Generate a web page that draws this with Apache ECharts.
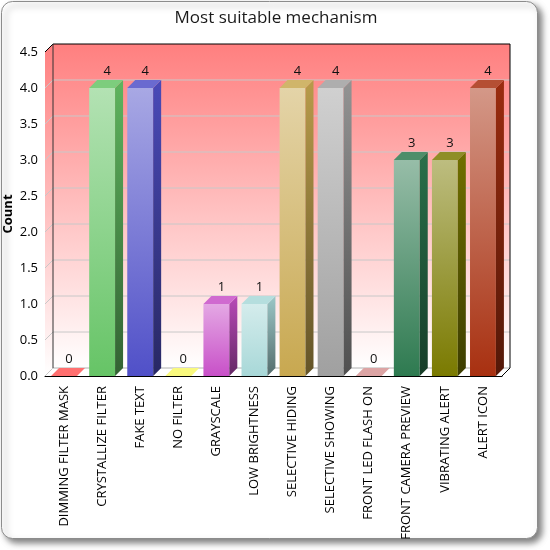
<!DOCTYPE html>
<html>
<head>
<meta charset="utf-8">
<script src="https://cdn.jsdelivr.net/npm/echarts@6/dist/echarts.min.js"></script>
<style>
  html, body { margin: 0; padding: 0; background: #fff; }
  #chart { width: 550px; height: 550px; }
</style>
</head>
<body>
<div id="chart"></div>
<script>
// data
const categories = ['DIMMING FILTER MASK', 'CRYSTALLIZE FILTER', 'FAKE TEXT', 'NO FILTER', 'GRAYSCALE',
  'LOW BRIGHTNESS', 'SELECTIVE HIDING', 'SELECTIVE SHOWING', 'FRONT LED FLASH ON',
  'FRONT CAMERA PREVIEW', 'VIBRATING ALERT', 'ALERT ICON'];
const counts = [0, 4, 4, 0, 1, 1, 4, 4, 0, 3, 3, 4];
const yTicks = [0, 0.5, 1, 1.5, 2, 2.5, 3, 3.5, 4, 4.5];

// one colour per bar
const barColors = ['#FF5F5F', '#66C466', '#5050C8', '#F8F870', '#C850C8', '#A8D8D8',
  '#C8A850', '#A0A0A0', '#D89A9A', '#2E7A50', '#7A7A00', '#A83010'];

const DEPTH = 8;

function mix(hex, target, t) {
  const a = parseInt(hex.slice(1), 16), b = parseInt(target.slice(1), 16);
  const ch = (n, s) => (n >> s) & 255;
  const m = s => Math.round(ch(a, s) + (ch(b, s) - ch(a, s)) * t);
  return 'rgb(' + m(16) + ',' + m(8) + ',' + m(0) + ')';
}
function vgrad(c1, c2) {
  return new echarts.graphic.LinearGradient(0, 0, 0, 1, [
    { offset: 0, color: c1 }, { offset: 1, color: c2 }
  ]);
}

// back wall, left wall, floor and grid lines
function renderWalls(params, api) {
  const cs = params.coordSys;
  const x0 = cs.x, x1 = cs.x + cs.width;
  const yTop = cs.y, yBot = cs.y + cs.height;
  const d = DEPTH;
  const wallFill = new echarts.graphic.LinearGradient(0, 0, 0, 1, [
    { offset: 0, color: '#FF7F7F' }, { offset: 1, color: '#FFFFFF' }
  ]);
  const kids = [
    { type: 'rect', shape: { x: x0 + d, y: yTop - d, width: x1 - x0, height: yBot - yTop },
      style: { fill: wallFill } },
    { type: 'polygon', shape: { points: [[x0, yTop], [x0 + d, yTop - d], [x0 + d, yBot - d], [x0, yBot]] },
      style: { fill: wallFill } },
    { type: 'polygon', shape: { points: [[x0, yBot], [x1, yBot], [x1 + d, yBot - d], [x0 + d, yBot - d]] },
      style: { fill: '#fff' } }
  ];
  yTicks.forEach(t => {
    const y = api.coord([0, t])[1];
    kids.push({ type: 'line', shape: { x1: x0, y1: y, x2: x0 + d, y2: y - d },
      style: { stroke: '#C8C8C8', lineWidth: 1 } });
    if (t > 0 && t < 4.5) {
      kids.push({ type: 'line', shape: { x1: x0 + d, y1: y - d, x2: x1 + d, y2: y - d },
        style: { stroke: '#C8C8C8', lineWidth: 1 } });
    }
  });
  kids.push({ type: 'line', shape: { x1: x0 + d, y1: yBot - d, x2: x1 + d, y2: yBot - d },
    style: { stroke: '#B0B0B0', lineWidth: 1 } });
  kids.push({ type: 'polyline',
    shape: { points: [[x0, yTop], [x0 + d, yTop - d], [x1 + d, yTop - d], [x1 + d, yBot - d], [x1, yBot]] },
    style: { stroke: '#000', lineWidth: 1, fill: null } });
  kids.push({ type: 'line', shape: { x1: x0 + d, y1: yTop - d, x2: x0 + d, y2: yBot - d },
    style: { stroke: '#333', lineWidth: 1 } });
  return { type: 'group', children: kids };
}

function renderBar(params, api) {
  const i = api.value(0), v = api.value(1);
  const base = api.coord([i, 0]);
  const top = api.coord([i, v]);
  const bw = api.size([1, 0])[0] * 0.68;
  const x0 = base[0] - bw / 2, x1 = base[0] + bw / 2;
  const yb = base[1], yt = top[1];
  const d = DEPTH;
  const c = barColors[i];
  const kids = [];
  if (v > 0) {
    kids.push({ type: 'rect', shape: { x: x0, y: yt, width: bw, height: yb - yt },
      style: { fill: vgrad(mix(c, '#FFFFFF', 0.5), c) } });
    kids.push({ type: 'polygon', shape: { points: [[x1, yt], [x1 + d, yt - d], [x1 + d, yb - d], [x1, yb]] },
      style: { fill: vgrad(mix(c, '#000000', 0.08), mix(c, '#000000', 0.5)) } });
  }
  kids.push({ type: 'polygon', shape: { points: [[x0, yt], [x1, yt], [x1 + d, yt - d], [x0 + d, yt - d]] },
    style: { fill: v > 0 ? mix(c, '#FFFFFF', 0.15) : mix(c, '#FFFFFF', 0.1) } });
  kids.push({ type: 'text', x: base[0] + d / 2 + 1, y: yt - d - 2,
    style: { text: String(v), fill: '#111', font: '13px "Open Sans"', align: 'center', verticalAlign: 'bottom' } });
  return { type: 'group', children: kids };
}

const chart = echarts.init(document.getElementById('chart'), null, { renderer: 'canvas' });

chart.setOption({
  backgroundColor: '#fff',
  animation: false,
  textStyle: { fontFamily: 'Open Sans' },
  graphic: [{
    type: 'rect', z: -10,
    shape: { x: 1.5, y: 1.5, width: 536, height: 537, r: 11 },
    style: { fill: '#fff', stroke: '#8C8C8C', lineWidth: 1,
      shadowBlur: 6, shadowOffsetX: 4, shadowOffsetY: 4, shadowColor: 'rgba(0,0,0,0.5)' }
  }],
  title: {
    text: 'Most suitable mechanism', left: 271, top: 5, textAlign: 'center',
    textStyle: { fontSize: 17, fontWeight: 'normal', color: '#1a1a1a', fontFamily: 'Open Sans' }
  },
  grid: { left: 45, right: 48, top: 52, bottom: 174, containLabel: false, outerBoundsMode: 'none' },
  xAxis: {
    type: 'category', data: categories, boundaryGap: true,
    axisTick: { show: false },
    axisLine: { show: true, lineStyle: { color: '#000', width: 1 } },
    axisLabel: { rotate: 90, interval: 0, fontSize: 13, color: '#000', margin: 10 },
    splitLine: { show: false }
  },
  yAxis: {
    type: 'value', min: 0, max: 4.5, interval: 0.5,
    name: 'Count', nameLocation: 'middle', nameGap: 30, nameRotate: 90, nameMoveOverlap: false,
    nameTextStyle: { fontSize: 13, fontWeight: 'bold', color: '#000' },
    axisTick: { show: false },
    axisLine: { show: true, lineStyle: { color: '#000', width: 1 } },
    axisLabel: { fontSize: 13, color: '#000', margin: 7, formatter: v => v.toFixed(1) },
    splitLine: { show: false }
  },
  series: [
    { type: 'custom', z: 1, renderItem: renderWalls, data: [[0, 0]], silent: true, clip: false },
    { type: 'custom', z: 3, renderItem: renderBar, data: counts.map((v, i) => [i, v]), clip: false }
  ]
});
</script>
</body>
</html>
